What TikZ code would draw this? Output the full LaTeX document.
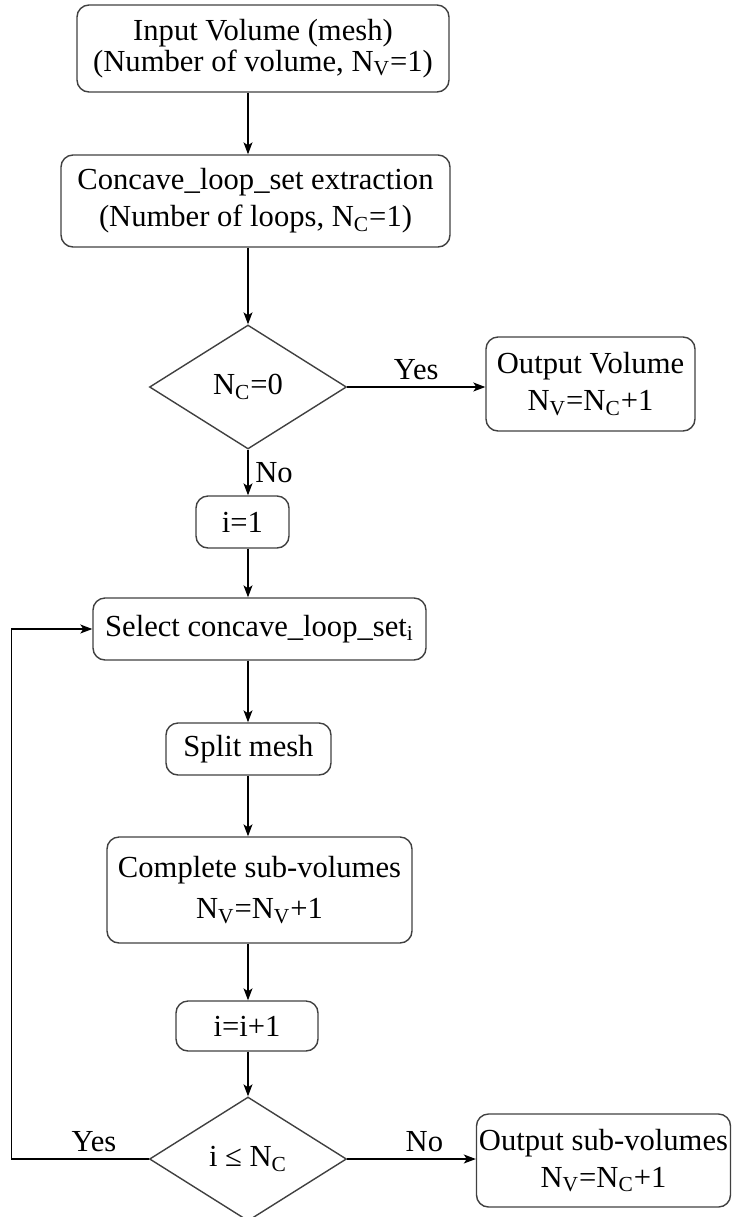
\documentclass[tikz,border=0pt]{standalone}
\usepackage{fontspec}
\setmainfont{Liberation Serif}
\usetikzlibrary{shapes.geometric,arrows.meta}
\tikzset{
  proc/.style={draw=black!75, line width=0.7pt, rounded corners=6pt, align=center, inner sep=0pt},
  decide/.style={draw=black!75, line width=0.7pt, diamond, inner sep=0pt,
    minimum width=98.5pt, minimum height=62pt},
  flow/.style={-{Stealth[length=6pt,width=4.5pt,inset=1.5pt]}, line width=0.6pt},
}
\begin{document}
\begin{tikzpicture}[x=0.5pt,y=-0.5pt,font=\fontsize{15.3}{18.5}\selectfont]
\useasboundingbox (0,0) rectangle (733,1217);
\node[proc, minimum width=186pt, minimum height=43.5pt] (inp) at (263,48.5) {Input Volume (mesh)\\[-3pt](Number of volume, N\textsubscript{V}=1)};
\node[proc, minimum width=194.5pt, minimum height=46pt] (ext) at (255.5,201) {Concave\_loop\_set extraction\\(Number of loops, N\textsubscript{C}=1)};
\node[decide] (nc0) at (248,387) {N\textsubscript{C}=0};
\node[proc, minimum width=104.5pt, minimum height=47pt] (outv) at (590.5,384) {Output Volume\\N\textsubscript{V}=N\textsubscript{C}+1};
\node[proc, minimum width=46.5pt, minimum height=26pt] (init) at (242.5,522) {i=1};
\node[proc, minimum width=166.5pt, minimum height=31pt] (sel) at (259.5,629) {Select concave\_loop\_set\textsubscript{i}};
\node[proc, minimum width=82.5pt, minimum height=26pt] (split) at (248.5,749) {Split mesh};
\node[proc, minimum width=152.5pt, minimum height=53pt] (comp) at (259.5,890) {Complete sub-volumes\\[2pt]N\textsubscript{V}=N\textsubscript{V}+1};
\node[proc, minimum width=71pt, minimum height=25pt] (incr) at (247,1026) {i=i+1};
\node[decide] (inc) at (248,1159) {i ≤ N\textsubscript{C}};
\node[proc, minimum width=127pt, minimum height=46.5pt] (outs) at (603.5,1160.5) {Output sub-volumes\\N\textsubscript{V}=N\textsubscript{C}+1};
% main column
\draw[flow] (inp.south -| nc0.north) -- (ext.north -| nc0.north);
\draw[flow] (ext.south -| nc0.north) -- (nc0.north);
\draw[flow] (nc0.east) -- node[above]{Yes} (nc0.east -| outv.west);
\draw[flow] (nc0.south) -- node[right]{No} (init.north -| nc0.south);
\draw[flow] (init.south -| nc0.south) -- (sel.north -| nc0.south);
\draw[flow] (sel.south -| nc0.south) -- (split.north -| nc0.south);
\draw[flow] (split.south -| nc0.south) -- (comp.north -| nc0.south);
\draw[flow] (comp.south -| nc0.south) -- (incr.north -| nc0.south);
\draw[flow] (incr.south -| inc.north) -- (inc.north);
% loop back
\draw[flow] (inc.west) -- node[above, pos=0.4]{Yes} ++(-137,0) |- (sel.west);
\draw[flow] (inc.east) -- node[above, pos=0.6]{No} (inc.east -| outs.west);
\end{tikzpicture}
\end{document}
